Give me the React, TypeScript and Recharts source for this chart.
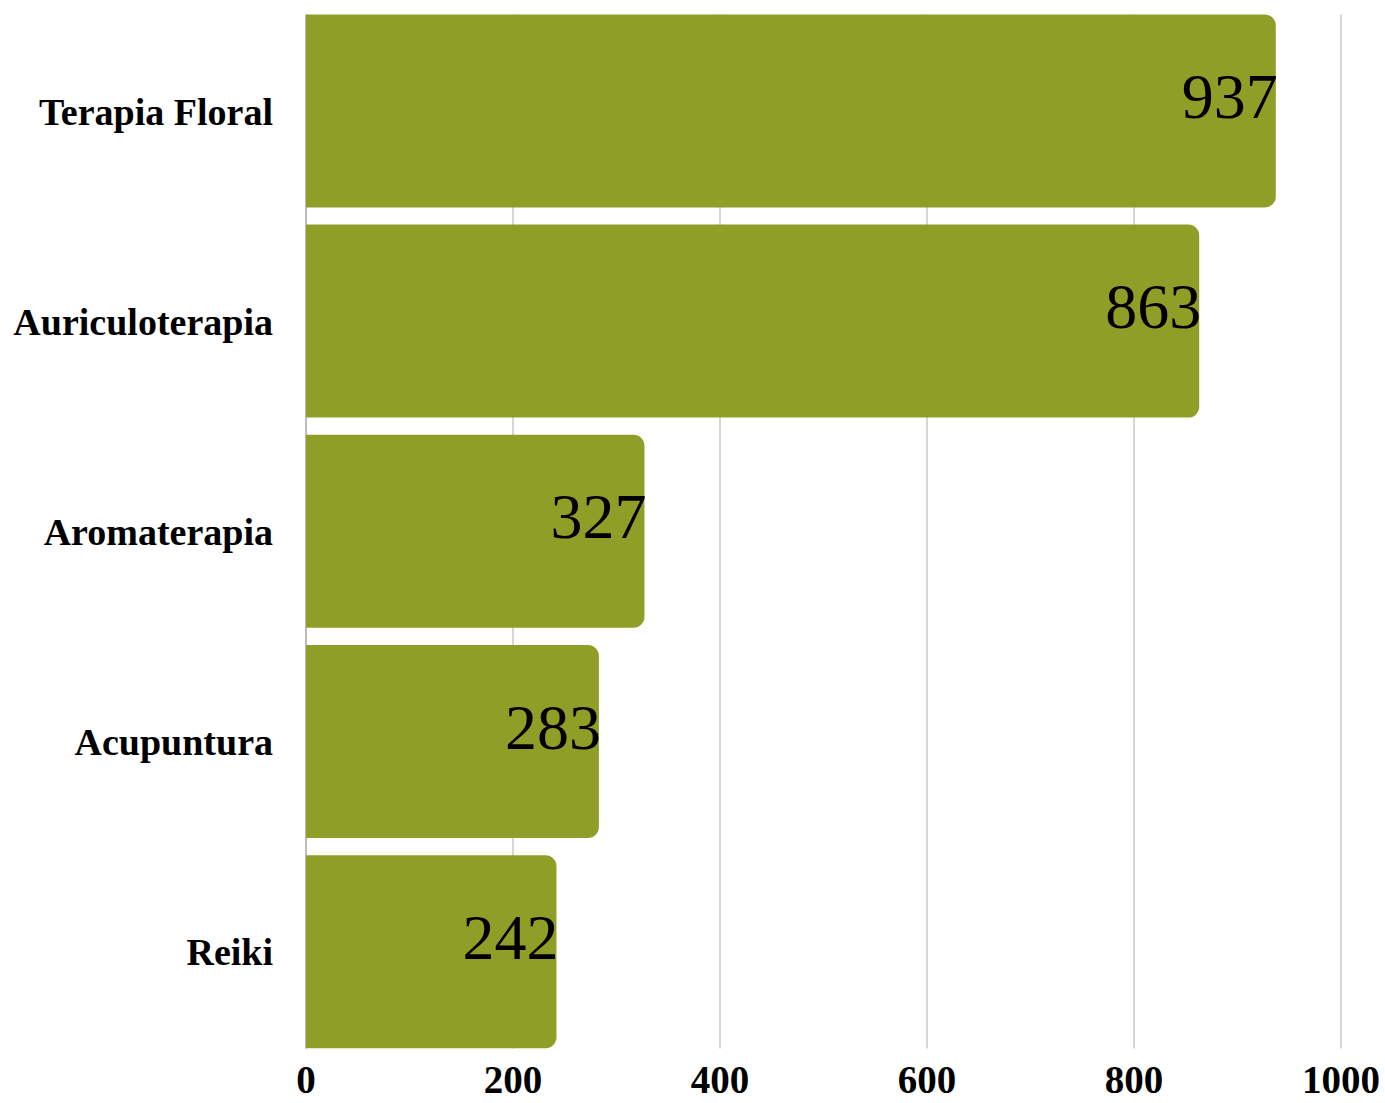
import { BarChart, Bar, XAxis, YAxis, CartesianGrid, LabelList } from 'recharts';

const categories = ['Terapia Floral', 'Auriculoterapia', 'Aromaterapia', 'Acupuntura', 'Reiki'];
const counts = [937, 863, 327, 283, 242];
const xTicks = [0, 200, 400, 600, 800, 1000];

const data = categories.map((name, i) => ({ name, value: counts[i] }));

const serif = '"Liberation Serif", "Times New Roman", serif';

function ValueLabel(props: any) {
  const { x, y, width, height, value } = props;
  return (
    <text
      x={x + width + 2}
      y={y + height / 2 + 7}
      textAnchor="end"
      fontFamily={serif}
      fontSize={64}
      fill="#000"
    >
      {value}
    </text>
  );
}

// grid lines stop at the outer bar edges, not at the band edges
function GridLine(props: any) {
  const { x1, x2, y1, y2, index } = props;
  return (
    <line
      key={`grid-${index}-${x1}`}
      x1={x1}
      x2={x2}
      y1={Math.min(y1, y2) + 8.5}
      y2={Math.max(y1, y2) - 8.5}
      stroke={x1 < 310 ? '#a8a8a8' : '#c8c8c8'}
      strokeWidth={1.5}
    />
  );
}

export default function App() {
  return (
    <div style={{ position: 'absolute', left: 0, top: 0, background: '#fff' }}>
      <BarChart
        width={1385}
        height={1103}
        data={data}
        layout="vertical"
        barCategoryGap="4%"
        margin={{ top: 6, right: 44, left: 0, bottom: 0 }}
      >
        <CartesianGrid horizontal={false} vertical={GridLine} />
        <XAxis
          type="number"
          domain={[0, 1000]}
          ticks={xTicks}
          height={46}
          axisLine={false}
          tickLine={false}
          tickSize={0}
          tickMargin={8}
          tick={{ fontSize: 39, fontWeight: 'bold', fill: '#000', fontFamily: serif }}
        />
        <YAxis
          type="category"
          dataKey="name"
          width={306}
          axisLine={false}
          tickLine={false}
          tickSize={0}
          tickMargin={33}
          tick={{ fontSize: 38, fontWeight: 'bold', fill: '#000', fontFamily: serif }}
        />
        <Bar dataKey="value" fill="#8f9e27" radius={[0, 11, 11, 0]} isAnimationActive={false}>
          <LabelList dataKey="value" content={ValueLabel} />
        </Bar>
      </BarChart>
    </div>
  );
}
